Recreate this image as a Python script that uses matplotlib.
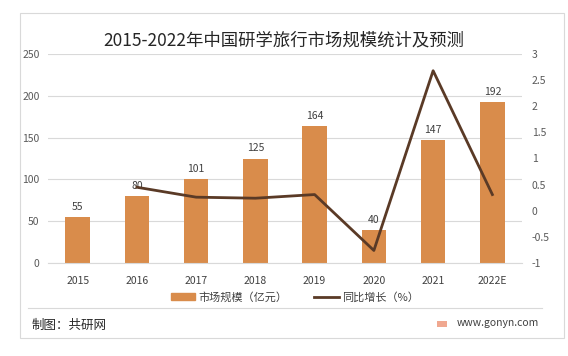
import matplotlib
matplotlib.use("Agg")
import matplotlib.pyplot as plt
from matplotlib.patches import Rectangle
from matplotlib.lines import Line2D

plt.rcParams['font.family'] = ['Noto Sans CJK SC', 'DejaVu Sans']

years = ['2015', '2016', '2017', '2018', '2019', '2020', '2021', '2022E']
market_size = [55, 80, 101, 125, 164, 40, 147, 192]
growth = [None, 0.45, 0.26, 0.24, 0.31, -0.76, 2.68, 0.31]

bar_color = '#D98C4B'
line_color = '#5A3A26'
grid_color = '#D9D9D9'
text_color = '#595959'

fig = plt.figure(figsize=(5.68, 3.56), dpi=100)

# outer frame and footer separator
fig.add_artist(Rectangle((20 / 568, 1 - 338 / 356), 544 / 568, 325 / 356,
                         transform=fig.transFigure, fill=False,
                         edgecolor='#D9D9D9', linewidth=0.8))
fig.add_artist(Line2D([28 / 568, 542 / 568], [1 - 308 / 356] * 2,
                      transform=fig.transFigure, color='#D9D9D9', linewidth=0.8))

ax = fig.add_axes([48 / 568, 1 - 263 / 356, 474 / 568, 209 / 356])
x = list(range(len(years)))
ax.bar(x, market_size, width=0.41, color=bar_color, zorder=2)
ax.set_ylim(0, 250)
ax.set_yticks(range(0, 251, 50))
ax.set_xlim(-0.5, len(years) - 0.5)
ax.set_xticks(x)
ax.set_xticklabels(years, fontsize=7.5, color='#404040')
ax.tick_params(axis='y', labelsize=7.5, labelcolor=text_color, length=0, pad=6)
ax.tick_params(axis='x', length=0, pad=9)
ax.grid(axis='y', color=grid_color, linewidth=0.8, zorder=0)
for s in ax.spines.values():
    s.set_visible(False)
ax.spines['bottom'].set_visible(True)
ax.spines['bottom'].set_color(grid_color)

for xi, v in zip(x, market_size):
    ax.text(xi, v + 6, str(v), ha='center', va='bottom', fontsize=7.5, color='#404040')

ax2 = ax.twinx()
gx = [xi for xi, g in zip(x, growth) if g is not None]
gy = [g for g in growth if g is not None]
ax2.plot(gx, gy, color=line_color, linewidth=2, zorder=3)
ax2.set_ylim(-1, 3)
ax2.set_yticks([-1, -0.5, 0, 0.5, 1, 1.5, 2, 2.5, 3])
ax2.set_yticklabels(['-1', '-0.5', '0', '0.5', '1', '1.5', '2', '2.5', '3'])
ax2.tick_params(axis='y', labelsize=7.5, labelcolor=text_color, length=0, pad=7)
for s in ax2.spines.values():
    s.set_visible(False)

fig.text(284 / 568, 1 - 40 / 356, '2015-2022年中国研学旅行市场规模统计及预测',
         ha='center', va='center', fontsize=12.5, color='#262626')

# legend
leg_handles = [Rectangle((0, 0), 1, 1, color=bar_color),
               Line2D([0], [0], color=line_color, linewidth=2)]
fig.legend(leg_handles, ['市场规模（亿元）', '同比增长（%）'],
           loc='center', bbox_to_anchor=(295 / 568, 1 - 297 / 356), ncol=2,
           frameon=False, fontsize=8, handlelength=2.2, handleheight=0.5,
           handletextpad=0.3, columnspacing=2.4, labelcolor='#404040')

fig.text(32 / 568, 1 - 325 / 356, '制图：共研网', ha='left', va='center',
         fontsize=9, color='#262626')
fig.add_artist(Rectangle((437 / 568, 1 - 327 / 356), 10 / 568, 6 / 356,
                         transform=fig.transFigure, color='#F0A890', linewidth=0))
fig.text(457 / 568, 1 - 323 / 356, 'www.gonyn.com', ha='left', va='center',
         fontsize=7.5, color='#404040')

fig.savefig('out.png', dpi=100)
